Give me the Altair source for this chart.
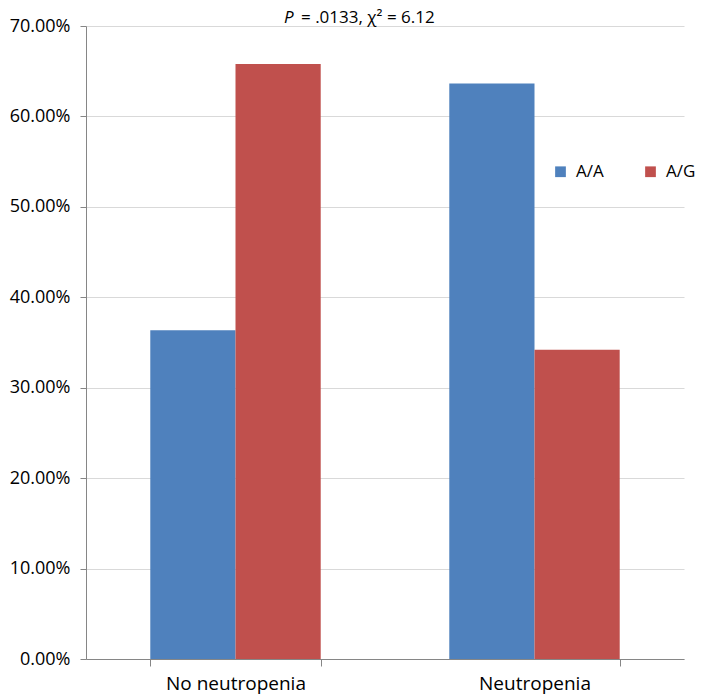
import altair as alt
import pandas as pd

categories = ["No neutropenia", "Neutropenia"]
genotypes = ["A/A", "A/G"]
aa_values = [0.3636, 0.6364]
ag_values = [0.6579, 0.3421]
colors = ["#4F81BD", "#C0504D"]
y_ticks = [0.0, 0.1, 0.2, 0.3, 0.4, 0.5, 0.6, 0.7]

rows = []
for c, a, g in zip(categories, aa_values, ag_values):
    rows.append({"category": c, "genotype": "A/A", "value": a})
    rows.append({"category": c, "genotype": "A/G", "value": g})
df = pd.DataFrame(rows)

FONT = "Open Sans"
FS = 18

bars = alt.Chart(df).mark_bar().encode(
    x=alt.X("category:N", sort=categories,
            scale=alt.Scale(paddingInner=0.43, paddingOuter=0.215),
            axis=alt.Axis(title=None, labelAngle=0, tickBand="extent", grid=False,
                          tickSize=7, labelPadding=8, labelFontSize=19)),
    xOffset=alt.XOffset("genotype:N", sort=genotypes,
                        scale=alt.Scale(paddingInner=0, paddingOuter=0)),
    y=alt.Y("value:Q", scale=alt.Scale(domain=[0, 0.7], nice=False),
            axis=alt.Axis(title=None, format=".2%", values=y_ticks, grid=True,
                          tickSize=6, labelPadding=10)),
    color=alt.Color("genotype:N",
                    scale=alt.Scale(domain=genotypes, range=colors),
                    legend=alt.Legend(title=None, orient="none", direction="horizontal",
                                      legendX=466, legendY=137, padding=0,
                                      symbolType="square", symbolSize=115,
                                      symbolStrokeWidth=0, labelOffset=7,
                                      columnPadding=38, labelFontSize=17,
                                      labelFont=FONT, labelColor="#000000")),
)

title_p = alt.Chart(pd.DataFrame({"t": ["P"]})).mark_text(
    align="left", baseline="alphabetic", font=FONT, fontSize=17, fontStyle="italic",
    color="#000000"
).encode(x=alt.value(198), y=alt.value(-3), text="t:N")

title_rest = alt.Chart(pd.DataFrame({"t": ["= .0133, χ² = 6.12"]})).mark_text(
    align="left", baseline="alphabetic", font=FONT, fontSize=17, color="#000000"
).encode(x=alt.value(215), y=alt.value(-3), text="t:N")

chart = alt.layer(bars, title_p, title_rest).properties(
    width=598, height=633,
    autosize=alt.AutoSizeParams(type="none"),
    padding={"left": 78, "top": 18, "right": 17, "bottom": 35},
).configure_view(stroke=None).configure_axis(
    domainColor="#868686", tickColor="#868686", gridColor="#D9D9D9",
    labelFont=FONT, labelFontSize=FS, labelColor="#000000",
).configure_legend(labelFont=FONT)

chart.save("out.html", embed_options={"renderer": "svg", "actions": False})
